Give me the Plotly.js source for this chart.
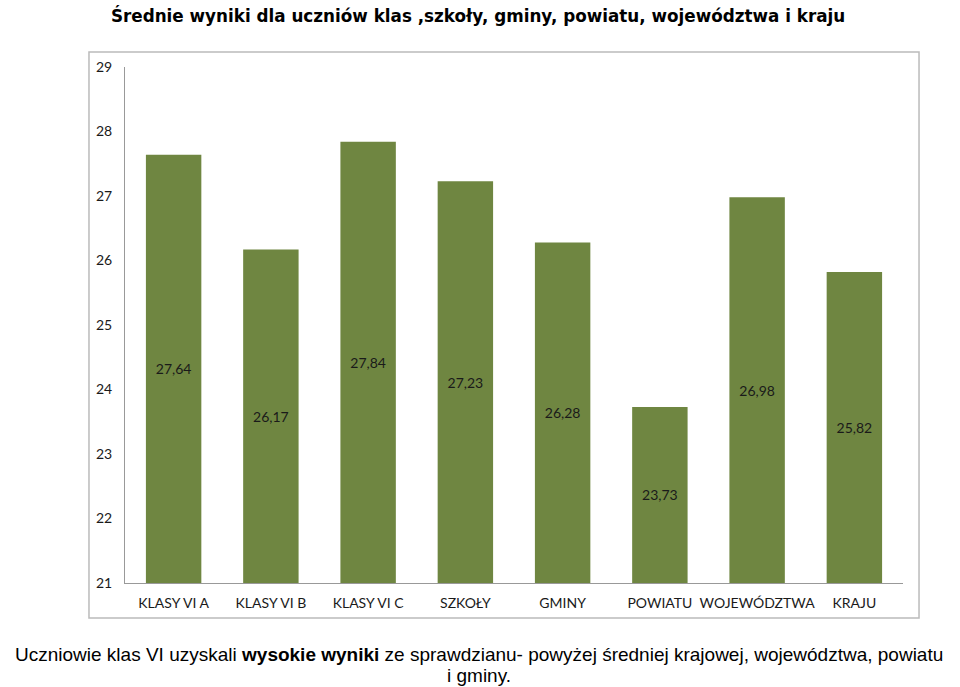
<!DOCTYPE html>
<html>
<head>
<meta charset="utf-8">
<script src="https://cdn.plot.ly/plotly-3.0.1.min.js"></script>
<style>html,body{margin:0;padding:0;background:#fff;}#chart{width:960px;height:687px;}</style>
</head>
<body>
<div id="chart"></div>
<script>
const categories = ["KLASY VI A", "KLASY VI B", "KLASY VI C", "SZKOŁY", "GMINY", "POWIATU", "WOJEWÓDZTWA", "KRAJU"];
const values = [27.64, 26.17, 27.84, 27.23, 26.28, 23.73, 26.98, 25.82];
const yTicks = [21, 22, 23, 24, 25, 26, 27, 28, 29];
const axisBase = 21;
const titleText = "Średnie wyniki dla uczniów klas ,szkoły, gminy, powiatu, województwa i kraju";
const noteLines = ["Uczniowie klas VI uzyskali <b>wysokie wyniki</b> ze sprawdzianu- powyżej średniej krajowej, województwa, powiatu", "i gminy."];

const labelFont = {family: "Lato, 'Open Sans', sans-serif", size: 14, color: "#1a1a1a"};
const noteFont = {family: "'Liberation Sans', Arial, sans-serif", size: 19, color: "#000"};

const trace = {
  type: "bar",
  x: categories,
  y: values.map(v => v - axisBase),
  base: axisBase,
  customdata: values,
  marker: {color: "#6F8641"},
  texttemplate: "%{customdata:.2f}",
  textposition: "inside",
  insidetextanchor: "middle",
  textangle: 0,
  textfont: labelFont,
  hoverinfo: "skip"
};

const layout = {
  width: 960, height: 687,
  separators: ", ",
  margin: {l: 125, r: 57, t: 67, b: 104},
  paper_bgcolor: "#fff", plot_bgcolor: "#fff",
  showlegend: false,
  bargap: 0.43,
  title: {text: "<b>" + titleText + "</b>", x: 0.498, xanchor: "center", y: 0.976, yanchor: "middle",
          font: {family: "'DejaVu Sans', sans-serif", size: 16.8, color: "#000"}},
  xaxis: {
    showgrid: false, zeroline: false, showline: true, linecolor: "#999", linewidth: 1,
    ticks: "", ticklabelstandoff: 7, tickfont: labelFont,
    fixedrange: true
  },
  yaxis: {
    range: [21, 29], tickvals: yTicks, ticktext: yTicks.map(String),
    showgrid: false, zeroline: false, showline: true, linecolor: "#999", linewidth: 1,
    ticks: "", ticklabelstandoff: 9, tickfont: labelFont,
    fixedrange: true
  },
  shapes: [{
    type: "rect", xref: "paper", yref: "paper",
    x0: -0.0463, x1: 1.0206, y0: -0.0678, y1: 1.029,
    line: {color: "#bbb", width: 1.5}, fillcolor: "rgba(0,0,0,0)", layer: "below"
  }],
  annotations: [
    {text: noteLines[0], xref: "paper", yref: "paper", x: 0.455, y: -0.1376,
     xanchor: "center", yanchor: "middle", showarrow: false, font: noteFont},
    {text: noteLines[1], xref: "paper", yref: "paper", x: 0.455, y: -0.1802,
     xanchor: "center", yanchor: "middle", showarrow: false, font: noteFont}
  ]
};
Plotly.newPlot("chart", [trace], layout, {displayModeBar: false, staticPlot: true});
</script>
</body>
</html>
